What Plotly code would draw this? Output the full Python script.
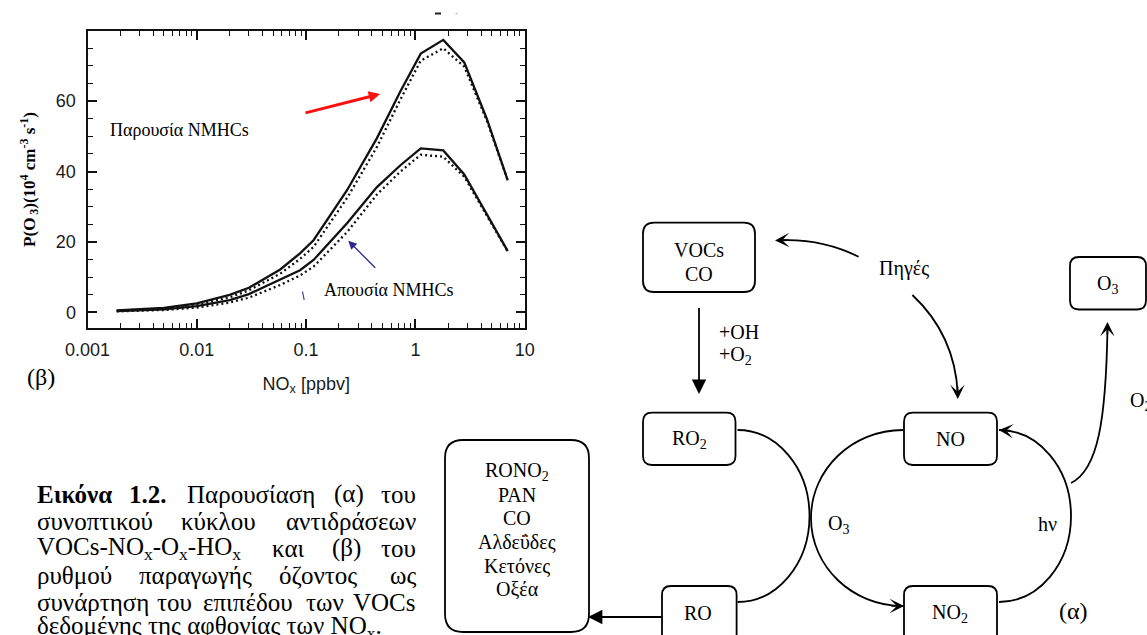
import plotly.graph_objects as go

W, H = 1147, 635

# ---------------- data ----------------
nox = [0.00185, 0.003, 0.005, 0.01, 0.02, 0.03, 0.058, 0.088, 0.117, 0.237, 0.445, 0.73, 1.12, 1.8, 2.8, 4.5, 7.0]
with_nmhc_solid = [0.6, 0.9, 1.3, 2.6, 5.0, 7.0, 12.2, 16.8, 20.5, 34.7, 49.5, 62.8, 73.5, 77.4, 71.0, 55.0, 37.5]
with_nmhc_dotted = [0.5, 0.8, 1.1, 2.3, 4.3, 6.3, 11.0, 15.2, 18.6, 32.5, 47.0, 60.5, 71.5, 75.0, 69.8, 54.5, 37.5]
without_nmhc_solid = [0.4, 0.6, 0.9, 1.8, 3.5, 5.2, 9.4, 12.0, 14.9, 25.3, 35.6, 41.8, 46.6, 46.0, 39.2, 27.8, 17.4]
without_nmhc_dotted = [0.3, 0.5, 0.7, 1.4, 2.8, 4.2, 7.8, 10.5, 13.0, 22.8, 33.5, 40.0, 44.8, 44.2, 38.5, 27.5, 17.3]

x_tickvals = [0.001, 0.01, 0.1, 1, 10]
x_ticktext = ["0.001", "0.01", "0.1", "1", "10"]
y_tickvals = [0, 20, 40, 60]
y_ticktext = ["0", "20", "40", "60"]

x_title = "NO<sub>x</sub> [ppbv]"
y_title = "<b>P(O<sub> 3</sub>)(10<sup>4</sup> cm<sup>-3</sup> s<sup>-1</sup>)</b>"
label_with = "Παρουσία NMHCs"
label_without = "Απουσία NMHCs"

caption_lines = [
    [("<b>Εικόνα</b>", "left", 35), ("<b>1.2.</b>", "center", 148), ("Παρουσίαση", "center", 251),
     ("(α)", "center", 349), ("του", "right", 418)],
    [("συνοπτικού", "left", 35), ("κύκλου", "center", 218), ("αντιδράσεων", "right", 418)],
    [("VOCs-NO<sub>x</sub>-O<sub>x</sub>-HO<sub>x</sub>", "left", 35), ("και", "center", 288),
     ("(β)", "center", 346), ("του", "right", 418)],
    [("ρυθμού", "left", 35), ("παραγωγής", "center", 195), ("όζοντος", "center", 318), ("ως", "right", 418)],
    [("συνάρτηση", "left", 35), ("του", "center", 174), ("επιπέδου", "center", 248),
     ("των", "center", 325), ("VOCs", "right", 418)],
    [("δεδομένης της αφθονίας των NO<sub>x</sub>.", "left", 35)],
]
caption_y = [494, 521, 548, 575, 602, 627]

SERIF = "Liberation Serif"
SANS = "Liberation Sans"
INK = "#111111"

fig = go.Figure()
line_solid = dict(color=INK, width=2.3)
line_dot = dict(color=INK, width=2.3, dash="2px,3px")
for yv, ln, nm in [(with_nmhc_solid, line_solid, "with NMHCs"),
                   (with_nmhc_dotted, line_dot, "with NMHCs (dotted)"),
                   (without_nmhc_solid, line_solid, "without NMHCs"),
                   (without_nmhc_dotted, line_dot, "without NMHCs (dotted)")]:
    fig.add_trace(go.Scatter(x=nox, y=yv, mode="lines", line=ln, name=nm,
                             xaxis="x", yaxis="y", hoverinfo="skip"))
# empty trace to host the full-figure overlay axes
fig.add_trace(go.Scatter(x=[], y=[], xaxis="x2", yaxis="y2", hoverinfo="skip"))

minor_x = [k * 10.0 ** d for d in range(-3, 1) for k in range(2, 10)]

fig.update_layout(
    width=W, height=H, margin=dict(l=0, r=0, t=0, b=0, autoexpand=False),
    paper_bgcolor="white", plot_bgcolor="rgba(0,0,0,0)", showlegend=False,
    xaxis=dict(type="log", range=[-3, 1.003], domain=[87.5 / W, 525 / W], anchor="y",
               automargin=False,
               showline=True, linecolor=INK, linewidth=2, mirror="ticks",
               ticks="inside", ticklen=9, tickwidth=1.6, tickcolor=INK,
               tickmode="array", tickvals=x_tickvals, ticktext=x_ticktext,
               tickfont=dict(family=SANS, size=18, color="#1a1a1a"), ticklabelstandoff=4,
               minor=dict(tickmode="array", tickvals=minor_x, ticks="inside", ticklen=5,
                          tickwidth=1.3, tickcolor=INK, showgrid=False),
               showgrid=False, zeroline=False,
               title=dict(text=x_title, font=dict(family=SANS, size=18, color="#1a1a1a"), standoff=18)),
    yaxis=dict(range=[-4.5, 80], domain=[1 - 328.3 / H, 1 - 30.7 / H], anchor="x",
               automargin=False,
               showline=True, linecolor=INK, linewidth=2, mirror="ticks",
               ticks="inside", ticklen=9, tickwidth=1.6, tickcolor=INK,
               tickmode="array", tickvals=y_tickvals, ticktext=y_ticktext,
               tickfont=dict(family=SANS, size=18, color="#1a1a1a"), ticklabelstandoff=6,
               minor=dict(dtick=5, tick0=0, ticks="inside", ticklen=5, tickwidth=1.3,
                          tickcolor=INK, showgrid=False),
               showgrid=False, zeroline=False,
               title=dict(text=y_title, font=dict(family=SERIF, size=17, color="#000"), standoff=16)),
    xaxis2=dict(domain=[0, 1], range=[0, W], anchor="y2", visible=False, fixedrange=True,
                automargin=False),
    yaxis2=dict(domain=[0, 1], range=[H, 0], anchor="x2", visible=False, fixedrange=True,
                automargin=False),
)


def rrect(x0, y0, x1, y1, r):
    return (f"M {x0+r},{y0} L {x1-r},{y0} Q {x1},{y0} {x1},{y0+r} L {x1},{y1-r} "
            f"Q {x1},{y1} {x1-r},{y1} L {x0+r},{y1} Q {x0},{y1} {x0},{y1-r} "
            f"L {x0},{y0+r} Q {x0},{y0} {x0+r},{y0} Z")


def half_ellipse(cx, cy, rx, ry, s):
    k = 0.5523
    return (f"M {cx},{cy-ry} C {cx+s*k*rx},{cy-ry} {cx+s*rx},{cy-k*ry} {cx+s*rx},{cy} "
            f"C {cx+s*rx},{cy+k*ry} {cx+s*k*rx},{cy+ry} {cx},{cy+ry}")


shapes = []


def add_path(p, width=1.8, color="black"):
    shapes.append(dict(type="path", path=p, xref="x2", yref="y2",
                       line=dict(color=color, width=width), layer="above"))


# boxes
for b in [(643, 222.7, 755, 292, 11), (1070, 257, 1146, 309.5, 9), (643, 412.7, 735.5, 465, 9),
          (904, 412.7, 997, 465, 9), (445, 440, 589, 632, 18), (662, 586, 736.6, 648, 9),
          (904, 586, 997, 648, 9)]:
    add_path(rrect(*b))

# loops
add_path(half_ellipse(737.5, 516, 72, 86, 1))
add_path(half_ellipse(903, 518, 92, 88, -1))
add_path(half_ellipse(999, 516, 72, 86, 1))
# sources arrows
add_path("M 858.6,256.7 Q 820,238 778,240.5")
add_path("M 912.4,295 Q 955,335 957.8,394")
# up to O3
add_path("M 1071,483 C 1098,470 1106,420 1107.5,328")
# straight arrows
add_path("M 699,308 L 699,385")
add_path("M 662,617 L 596,617")
# small marks on chart
add_path("M 302.5,291.5 L 304.2,300", width=1.2, color="#3a3aa0")
add_path("M 435,13.5 L 441,13.5", width=2, color="#222")
add_path("M 455.5,13.5 L 457.5,13.5", width=1.5, color="#bbb")

annotations = []


def arrow(tip, tail, head, size, width, color="black"):
    annotations.append(dict(x=tip[0], y=tip[1], ax=tail[0], ay=tail[1], xref="x2", yref="y2",
                            axref="x2", ayref="y2", showarrow=True, arrowhead=head,
                            arrowsize=size, arrowwidth=width, arrowcolor=color, text="",
                            standoff=0, startstandoff=0))


def text(x, y, t, size=20, anchor="center", family=SERIF, color="black", yanchor="middle"):
    annotations.append(dict(x=x, y=y, xref="x2", yref="y2", text=t, showarrow=False,
                            xanchor=anchor, yanchor=yanchor,
                            font=dict(family=family, size=size, color=color)))


arrow((699, 394), (699, 380), 2, 1.8, 1.6)
arrow((588, 617), (600, 617), 2, 1.8, 1.6)
arrow((775, 240.5), (790, 240), 3, 1.5, 1.6)
arrow((957.8, 399), (957.5, 385), 3, 1.5, 1.6)
arrow((1107.5, 322), (1107.4, 336), 3, 1.5, 1.6)
arrow((904, 606), (890, 606), 3, 1.5, 1.6)
arrow((999, 430), (1012, 431), 3, 1.5, 1.6)
arrow((380, 94), (304, 113.3), 2, 0.75, 3, "#ff1010")
arrow((348.3, 240.7), (376.7, 269.3), 2, 1.3, 1.3, "#2a2a8c")

# diagram texts
text(699, 249.5, "VOCs")
text(699, 273.5, "CO")
text(904, 268, "Πηγές")
text(1107, 284, "O<sub>3</sub>")
text(717, 331.7, "+OH", anchor="left")
text(717, 355, "+O<sub>2</sub>", anchor="left")
text(689, 439, "RO<sub>2</sub>")
text(950, 439, "NO")
text(1128, 401, "O<sub>2</sub>", anchor="left")
for t, yy in zip(["RONO<sub>2</sub>", "PAN", "CO", "Αλδεΰδες", "Κετόνες", "Οξέα"],
                 [471, 494.5, 518, 542, 566, 589]):
    text(517, yy, t)
text(838, 524, "O<sub>3</sub>")
text(1047, 524, "hν")
text(698, 613, "RO")
text(950, 613, "NO<sub>2</sub>")
text(1073, 611, "(α)", size=24)

# chart texts
text(108, 130, label_with, size=18, anchor="left")
text(321.7, 289.5, label_without, size=18, anchor="left")
text(41, 377, "(β)", size=24)

# caption
for words, yy in zip(caption_lines, caption_y):
    for t, anc, xx in words:
        text(xx, yy, t, size=25, anchor=anc)

fig.update_layout(shapes=shapes, annotations=annotations)
fig.write_html("out.html", config={"displayModeBar": False},
               post_script="document.body.style.margin='0';document.body.style.padding='0';")
